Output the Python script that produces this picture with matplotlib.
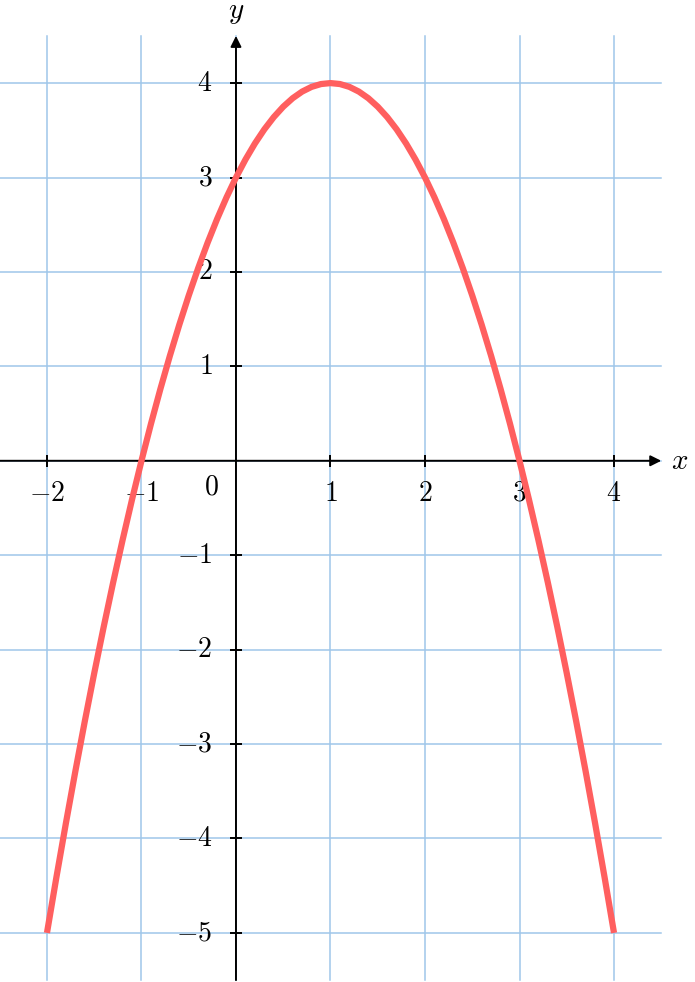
import numpy as np
import matplotlib.pyplot as plt

plt.rcParams['mathtext.fontset'] = 'cm'
plt.rcParams['font.family'] = 'serif'
plt.rcParams['font.serif'] = ['DejaVu Serif']

# curve points
xs = [-2.0, -1.9, -1.8, -1.7, -1.6, -1.5, -1.4, -1.3, -1.2, -1.1,
      -1.0, -0.9, -0.8, -0.7, -0.6, -0.5, -0.4, -0.3, -0.2, -0.1,
      0.0, 0.1, 0.2, 0.3, 0.4, 0.5, 0.6, 0.7, 0.8, 0.9,
      1.0, 1.1, 1.2, 1.3, 1.4, 1.5, 1.6, 1.7, 1.8, 1.9,
      2.0, 2.1, 2.2, 2.3, 2.4, 2.5, 2.6, 2.7, 2.8, 2.9,
      3.0, 3.1, 3.2, 3.3, 3.4, 3.5, 3.6, 3.7, 3.8, 3.9, 4.0]
ys = [-5.0, -4.41, -3.84, -3.29, -2.76, -2.25, -1.76, -1.29, -0.84, -0.41,
      0.0, 0.39, 0.76, 1.11, 1.44, 1.75, 2.04, 2.31, 2.56, 2.79,
      3.0, 3.19, 3.36, 3.51, 3.64, 3.75, 3.84, 3.91, 3.96, 3.99,
      4.0, 3.99, 3.96, 3.91, 3.84, 3.75, 3.64, 3.51, 3.36, 3.19,
      3.0, 2.79, 2.56, 2.31, 2.04, 1.75, 1.44, 1.11, 0.76, 0.39,
      0.0, -0.41, -0.84, -1.29, -1.76, -2.25, -2.76, -3.29, -3.84, -4.41, -5.0]

xticks = [-2, -1, 1, 2, 3, 4]
yticks = [-5, -4, -3, -2, -1, 1, 2, 3, 4]
xgrid = [-2, -1, 0, 1, 2, 3, 4]
ygrid = [-5, -4, -3, -2, -1, 0, 1, 2, 3, 4]

gridc = '#9fc6ea'
curvec = '#ff5f5f'

fig = plt.figure(figsize=(6.95, 9.82), dpi=100)
ax = fig.add_axes([0, 0, 1, 1])
ax.set_xlim(-2.497, 4.857)
ax.set_ylim(-5.52, 4.88)
ax.axis('off')

for gx in xgrid:
    ax.plot([gx, gx], [-5.5, 4.5], color=gridc, lw=1.1, zorder=1)
for gy in ygrid:
    ax.plot([-2.5, 4.5], [gy, gy], color=gridc, lw=1.1, zorder=1)

# axes with arrows
ax.annotate('', xy=(4.5, 0), xytext=(-2.5, 0),
            arrowprops=dict(arrowstyle='-|>', color='black', lw=1.4,
                            mutation_scale=16, shrinkA=0, shrinkB=0), zorder=3)
ax.annotate('', xy=(0, 4.5), xytext=(0, -5.5),
            arrowprops=dict(arrowstyle='-|>', color='black', lw=1.4,
                            mutation_scale=16, shrinkA=0, shrinkB=0), zorder=3)

ax.plot(xticks, [0] * len(xticks), ls='none', marker='|', ms=9, mew=1.4, color='black', zorder=3)
ax.plot([0] * len(yticks), yticks, ls='none', marker='_', ms=9, mew=1.4, color='black', zorder=3)

fs = 20
for t in xticks:
    ax.text(t, -0.2, r'$%d$' % t, ha='center', va='top', fontsize=fs, zorder=4)
for t in yticks:
    ax.text(-0.25, t, r'$%d$' % t, ha='right', va='center', fontsize=fs, zorder=4)
ax.text(-0.26, -0.28, r'$0$', ha='center', va='center', fontsize=fs, zorder=4)
ax.text(4.6, 0, r'$x$', ha='left', va='center', fontsize=fs + 1)
ax.text(0, 4.75, r'$y$', ha='center', va='center', fontsize=fs + 1)

ax.plot(xs, ys, color=curvec, lw=4.5, solid_capstyle='butt',
        solid_joinstyle='round', zorder=5)

fig.savefig('out.png', dpi=100)
